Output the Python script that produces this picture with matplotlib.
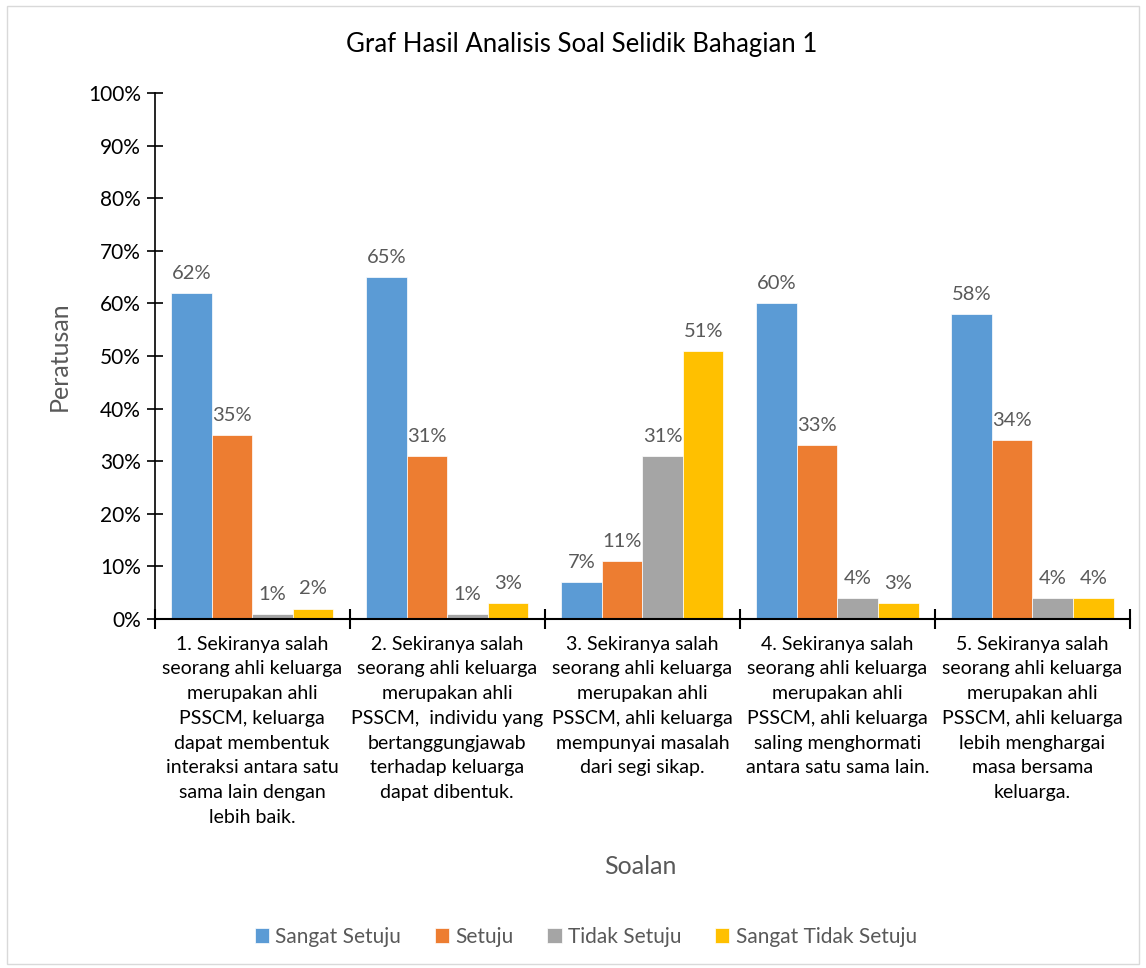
import numpy as np
import matplotlib.pyplot as plt
from matplotlib.patches import Rectangle

plt.rcParams['font.family'] = ['Lato', 'DejaVu Sans']

categories = [
    "1. Sekiranya salah\nseorang ahli keluarga\nmerupakan ahli\nPSSCM, keluarga\ndapat membentuk\ninteraksi antara satu\nsama lain dengan\nlebih baik.",
    "2. Sekiranya salah\nseorang ahli keluarga\nmerupakan ahli\nPSSCM,  individu yang\nbertanggungjawab\nterhadap keluarga\ndapat dibentuk.",
    "3. Sekiranya salah\nseorang ahli keluarga\nmerupakan ahli\nPSSCM, ahli keluarga\nmempunyai masalah\ndari segi sikap.",
    "4. Sekiranya salah\nseorang ahli keluarga\nmerupakan ahli\nPSSCM, ahli keluarga\nsaling menghormati\nantara satu sama lain.",
    "5. Sekiranya salah\nseorang ahli keluarga\nmerupakan ahli\nPSSCM, ahli keluarga\nlebih menghargai\nmasa bersama\nkeluarga.",
]
series_names = ["Sangat Setuju", "Setuju", "Tidak Setuju", "Sangat Tidak Setuju"]
sangat_setuju = [62, 65, 7, 60, 58]
setuju = [35, 31, 11, 33, 34]
tidak_setuju = [1, 1, 31, 4, 4]
sangat_tidak_setuju = [2, 3, 51, 3, 4]
colors = ["#5B9BD5", "#ED7D31", "#A5A5A5", "#FFC000"]

fig = plt.figure(figsize=(11.46, 9.68), dpi=100)
ax = fig.add_axes([0.135, 0.3605, 0.851, 0.5435])

x = np.arange(len(categories))
w = 0.208
all_series = [sangat_setuju, setuju, tidak_setuju, sangat_tidak_setuju]
for i, vals in enumerate(all_series):
    pos = x + (i - 1.5) * w
    ax.bar(pos, vals, width=w, color=colors[i], label=series_names[i], edgecolor='white', linewidth=0.5)
    for p, v in zip(pos, vals):
        ax.annotate(f"{v}%", (p, v), xytext=(0, 8), textcoords='offset points',
                    ha='center', va='bottom', fontsize=14.5, color='#595959')

ax.set_xlim(-0.5, 4.5)
ax.set_ylim(0, 100)
ax.set_yticks(range(0, 101, 10))
ax.set_yticklabels([f"{v}%" for v in range(0, 101, 10)], fontsize=15)
ax.set_xticks(np.arange(-0.5, 5, 1))
ax.set_xticklabels([])
ax.set_xticks(x, minor=True)
ax.set_xticklabels(categories, minor=True, fontsize=14, linespacing=1.55)
ax.tick_params(axis='x', which='minor', length=0, pad=12)
ax.tick_params(axis='x', which='major', direction='inout', length=14, width=1.5)
ax.tick_params(axis='y', direction='inout', length=12, width=1.2, pad=4)

for s in ['top', 'right']:
    ax.spines[s].set_visible(False)
ax.spines['left'].set_linewidth(1.2)
ax.spines['bottom'].set_linewidth(1.5)

ax.set_ylabel("Peratusan", fontsize=18, color='#595959', labelpad=12)
fig.text(0.559, 0.105, "Soalan", fontsize=18, color='#595959', ha='center', va='center')
fig.text(0.508, 0.954, "Graf Hasil Analisis Soal Selidik Bahagian 1", fontsize=18.5, ha='center', va='center')

handles, labels = ax.get_legend_handles_labels()
fig.legend(handles, labels, loc='center', bbox_to_anchor=(0.511, 0.032), ncol=4, frameon=False,
           fontsize=15, labelcolor='#595959', handlelength=0.7, handleheight=0.7,
           handletextpad=0.3, columnspacing=1.6)

fig.add_artist(Rectangle((0.006, 0.004), 0.988, 0.99, transform=fig.transFigure,
                         fill=False, edgecolor='#D9D9D9', linewidth=1))

fig.savefig("out.png", dpi=100)
